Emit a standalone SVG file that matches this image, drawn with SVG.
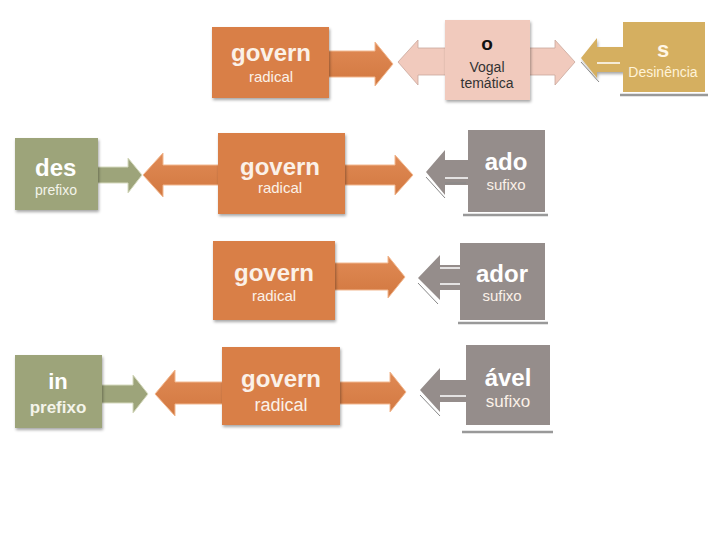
<svg xmlns="http://www.w3.org/2000/svg" width="720" height="540" viewBox="0 0 720 540">
<defs>
<filter id="sh" x="-10%" y="-10%" width="130%" height="130%">
<feDropShadow dx="1" dy="2" stdDeviation="1.5" flood-color="#000" flood-opacity="0.35"/>
</filter>
<linearGradient id="og" x1="0" y1="0" x2="0" y2="1">
<stop offset="0" stop-color="#E08A55"/><stop offset="1" stop-color="#D27840"/>
</linearGradient>
</defs>
<style>
text{font-family:"Liberation Sans",Arial,sans-serif;}
.orange{fill:#D97F47;}
.oarrow{fill:url(#og);stroke:#F2B890;stroke-width:1;}
.green{fill:#9DA47A;}
.garrow{fill:#9DA47A;stroke:#D6DABF;stroke-width:1;}
.pink{fill:#F1CABD;}
.parrow{fill:#F1CABD;stroke:#C9A79C;stroke-width:0.8;}
.gold{fill:#D5AF60;}
.grey{fill:#958D8B;}
.garr{fill:#958D8B;}
.big{font-size:24px;font-weight:bold;fill:#FBF1E8;text-anchor:middle;}
.small{font-size:15px;fill:#FBF1E8;text-anchor:middle;}
.dark{font-size:14px;fill:#333;text-anchor:middle;}
.line{stroke:#999;stroke-width:2.5;}
.wl{stroke:#fff;stroke-width:1.5;fill:none;}
.sl{stroke:#888;stroke-width:1;fill:none;}
</style>

<g id="connectors">
<!-- row 1 -->
<polygon class="oarrow" points="325,51 375,51 375,42 393,64 375,86 375,77 325,77"/>
<polygon class="parrow" points="398,62 418,40 418,48 555,48 555,40 575,62 555,85 555,75 418,75 418,85"/>
<polygon class="gold" filter="url(#sh)" points="581,58 597,38 597,47 625,47 625,72 597,72 597,78"/>
<polyline class="wl" points="597,63 620,63"/>
<polyline class="sl" points="581,62 599,82"/>
<!-- row 2 -->
<polygon class="garrow" points="95,167 128,167 128,158 142,175 128,193 128,183 95,183"/>
<polygon class="oarrow" points="143,175 163,153 163,165 395,165 395,155 413,175 395,195 395,185 163,185 163,197"/>
<polygon class="garr" points="426,172 445,150 445,160 470,160 470,185 445,185 445,195"/>
<polyline class="wl" points="445,178 468,178"/>
<polyline class="sl" points="426,177 445,198"/>
<polyline class="sl" points="445,183 466,183"/>
<!-- row 3 -->
<polygon class="oarrow" points="330,263 388,263 388,256 405,277 388,298 388,290 330,290"/>
<polygon class="garr" points="418,278 440,255 440,265 462,265 462,290 440,290 440,300"/>
<polyline class="wl" points="440,268 460,268"/>
<polyline class="wl" points="440,284 460,284"/>
<polyline class="sl" points="418,283 438,304"/>
<!-- row 4 -->
<polygon class="garrow" points="99,385 133,385 133,375 148,394 133,413 133,403 99,403"/>
<polygon class="oarrow" points="155,394 175,370 175,382 390,382 390,372 406,392 390,412 390,404 175,404 175,416"/>
<polygon class="garr" points="420,390 440,368 440,380 468,380 468,402 440,402 440,412"/>
<polyline class="wl" points="440,396 466,396"/>
<polyline class="sl" points="420,395 440,416"/>
</g>

<g id="govern1">
<rect class="orange" filter="url(#sh)" x="212" y="27" width="117" height="71"/>
<text class="big" x="271" y="61">govern</text>
<text class="small" x="271" y="82">radical</text>
</g>
<g id="vogal">
<rect class="pink" filter="url(#sh)" x="445" y="20" width="85" height="80"/>
<text x="487" y="50" style="font-size:19px;font-weight:bold;fill:#111;text-anchor:middle">o</text>
<text class="dark" x="487" y="72">Vogal</text>
<text class="dark" x="487" y="88">temática</text>
</g>
<g id="desinencia">
<rect class="gold" x="623" y="22" width="82" height="70"/>
<line class="line" x1="620" y1="95" x2="708" y2="95"/>
<text x="663" y="57" style="font-size:22px;font-weight:bold;fill:#FFF6E6;text-anchor:middle">s</text>
<text x="663" y="77" style="font-size:14px;fill:#FFF3D8;text-anchor:middle">Desinência</text>
</g>

<g id="des">
<rect class="green" filter="url(#sh)" x="15" y="138" width="83" height="72"/>
<text x="35" y="176" style="font-size:24px;font-weight:bold;fill:#fff">des</text>
<text x="35" y="195" style="font-size:14px;fill:#F4F4EA">prefixo</text>
</g>
<g id="govern2">
<rect class="orange" filter="url(#sh)" x="218" y="133" width="127" height="81"/>
<text class="big" x="280" y="175">govern</text>
<text class="small" x="280" y="193">radical</text>
</g>
<g id="ado">
<rect class="grey" x="468" y="130" width="77" height="82"/>
<line class="line" x1="463" y1="215" x2="548" y2="215"/>
<text class="big" x="506" y="170" style="fill:#fff">ado</text>
<text class="small" x="506" y="190">sufixo</text>
</g>

<g id="govern3">
<rect class="orange" filter="url(#sh)" x="213" y="241" width="122" height="79"/>
<text class="big" x="274" y="281">govern</text>
<text class="small" x="274" y="301">radical</text>
</g>
<g id="ador">
<rect class="grey" x="460" y="243" width="85" height="77"/>
<line class="line" x1="458" y1="323" x2="548" y2="323"/>
<text class="big" x="502" y="282" style="fill:#fff">ador</text>
<text class="small" x="502" y="301">sufixo</text>
</g>

<g id="in">
<rect class="green" filter="url(#sh)" x="15" y="355" width="87" height="73"/>
<text x="58" y="389" style="font-size:22px;font-weight:bold;fill:#fff;text-anchor:middle">in</text>
<text x="58" y="413" style="font-size:17px;font-weight:bold;fill:#F4F4EA;text-anchor:middle">prefixo</text>
</g>
<g id="govern4">
<rect class="orange" filter="url(#sh)" x="222" y="347" width="118" height="78"/>
<text class="big" x="281" y="387">govern</text>
<text class="small" x="281" y="411" style="font-size:18px">radical</text>
</g>
<g id="avel">
<rect class="grey" x="466" y="345" width="84" height="80"/>
<line class="line" x1="462" y1="432" x2="553" y2="432"/>
<text class="big" x="508" y="386" style="fill:#fff">ável</text>
<text class="small" x="508" y="407" style="font-size:17px">sufixo</text>
</g>
</svg>
